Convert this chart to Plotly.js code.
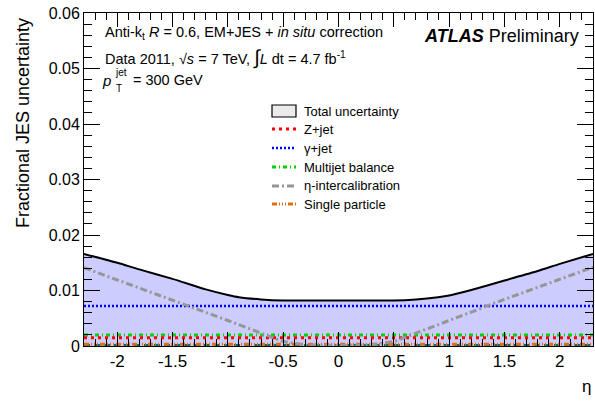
<!DOCTYPE html>
<html>
<head>
<meta charset="utf-8">
<script src="https://cdn.plot.ly/plotly-3.0.1.min.js"></script>
<style>html,body{margin:0;padding:0;background:#fff;}#chart{width:595px;height:404px;}</style>
</head>
<body>
<div id="chart"></div>
<script>
// eta points and values
const etaTotal = [-2.3, -2.0, -1.8, -1.5, -1.2, -1.0, -0.9, -0.7, -0.5, 0.0, 0.5, 0.7, 0.9, 1.0, 1.2, 1.5, 1.8, 2.0, 2.3];
const totalUnc = [0.0166, 0.0150, 0.0138, 0.0121, 0.0102, 0.0092, 0.0088, 0.0084, 0.0082, 0.0082, 0.0082, 0.0084, 0.0088, 0.0091, 0.0101, 0.0118, 0.0135, 0.0148, 0.0166];

const etaFlat = [-2.3, 2.3];
const zjet = [0.0015, 0.0015];
const gammajet = [0.0072, 0.0072];
const multijet = [0.0020, 0.0020];
const singleParticle = [0.0003, 0.0003];
const otherTerm = [0.0001, 0.0001];

const etaInter = [-2.3, -1.5, -1.0, -0.5, -0.3, 0.0, 0.3, 0.5, 1.0, 1.5, 2.3];
const etaIntercal = [0.0141, 0.0083, 0.0046, 0.0008, 0.0002, 0.0001, 0.0002, 0.0008, 0.0046, 0.0084, 0.0142];

const legendNames = ['Total uncertainty', 'Z+jet', 'γ+jet', 'Multijet balance', 'η-intercalibration', 'Single particle'];
const xTicks = [-2, -1.5, -1, -0.5, 0, 0.5, 1, 1.5, 2];
const xTickText = ['-2', '-1.5', '-1', '-0.5', '0', '0.5', '1', '1.5', '2'];
const yTicks = [0, 0.01, 0.02, 0.03, 0.04, 0.05, 0.06];
const yTickText = ['0', '0.01', '0.02', '0.03', '0.04', '0.05', '0.06'];

// styles
const styles = {
  total: {fill: 'rgb(204,204,255)', line: 'black'},
  z: {color: 'rgb(255,0,0)', width: 3, dash: '3px,4px'},
  g: {color: 'rgb(0,0,255)', width: 2.5, dash: '2px,2px'},
  m: {color: 'rgb(0,210,0)', width: 3, dash: '4px,3px,1px,3px'},
  e: {color: 'rgb(150,150,150)', width: 3, dash: '7px,3px,2px,3px'},
  s: {color: 'rgb(220,110,20)', width: 3, dash: '5px,2px,1px,2px,1px,2px,1px,2px'},
  o: {color: 'rgb(0,110,110)', width: 3, dash: '6px,4px'}
};

const traces = [
  {x: etaTotal, y: totalUnc, type: 'scatter', mode: 'lines', fill: 'tozeroy',
   fillcolor: styles.total.fill, line: {color: styles.total.line, width: 2, shape: 'spline', smoothing: 0.6}, name: legendNames[0]},
  {x: etaFlat, y: otherTerm, type: 'scatter', mode: 'lines', line: styles.o},
  {x: etaFlat, y: singleParticle, type: 'scatter', mode: 'lines', line: styles.s, name: legendNames[5]},
  {x: etaFlat, y: multijet, type: 'scatter', mode: 'lines', line: styles.m, name: legendNames[3]},
  {x: etaFlat, y: zjet, type: 'scatter', mode: 'lines', line: styles.z, name: legendNames[1]},
  {x: etaFlat, y: gammajet, type: 'scatter', mode: 'lines', line: styles.g, name: legendNames[2]},
  {x: etaInter, y: etaIntercal, type: 'scatter', mode: 'lines', line: styles.e, name: legendNames[4]}
];

// pixel helpers for the plot frame (l=84, r=593, t=13, b=346)
const L = 84, R = 593, T = 13, B = 346;
const px = x => (x - L) / (R - L);
const py = y => (B - y) / (B - T);

const fontFam = 'Liberation Sans, Arial, sans-serif';

// manual legend
const legRows = [111, 129, 148, 167, 186, 204];
const legStyles = [null, styles.z, styles.g, styles.m, styles.e, styles.s];
const shapes = [];
const annotations = [];
legRows.forEach((yy, i) => {
  if (i === 0) {
    shapes.push({type: 'rect', xref: 'paper', yref: 'paper', x0: px(272), x1: px(296), y0: py(117), y1: py(105),
                 fillcolor: 'rgb(235,235,235)', line: {color: 'black', width: 1.2}});
  } else {
    shapes.push({type: 'line', xref: 'paper', yref: 'paper', x0: px(272), x1: px(296), y0: py(yy), y1: py(yy),
                 line: legStyles[i]});
  }
  annotations.push({xref: 'paper', yref: 'paper', x: px(302), y: py(yy), xanchor: 'left', yanchor: 'middle',
                    showarrow: false, text: legendNames[i], font: {size: 13}});
});

annotations.push(
  {xref: 'paper', yref: 'paper', x: px(103), y: py(33), xanchor: 'left', yanchor: 'middle', showarrow: false,
   text: 'Anti-k<sub>t</sub> <i>R</i> = 0.6, EM+JES + <i>in situ</i> correction', font: {size: 14.5}},
  {xref: 'paper', yref: 'paper', x: px(103), y: py(57), xanchor: 'left', yanchor: 'middle', showarrow: false,
   text: 'Data 2011, √<i>s</i> = 7 TeV, <span style="font-size:20px">∫</span><i>L</i> dt = 4.7 fb<sup>-1</sup>', font: {size: 14.5}},
  {xref: 'paper', yref: 'paper', x: px(100), y: py(80), xanchor: 'left', yanchor: 'middle', showarrow: false,
   text: '<i>p</i>', font: {size: 15}},
  {xref: 'paper', yref: 'paper', x: px(113), y: py(72), xanchor: 'left', yanchor: 'middle', showarrow: false,
   text: 'jet', font: {size: 10}},
  {xref: 'paper', yref: 'paper', x: px(114), y: py(88), xanchor: 'left', yanchor: 'middle', showarrow: false,
   text: 'T', font: {size: 10}},
  {xref: 'paper', yref: 'paper', x: px(131), y: py(80), xanchor: 'left', yanchor: 'middle', showarrow: false,
   text: '= 300 GeV', font: {size: 14.5}},
  {xref: 'paper', yref: 'paper', x: px(581), y: py(36), xanchor: 'right', yanchor: 'middle', showarrow: false,
   text: '<b><i>ATLAS</i></b> Preliminary', font: {size: 18}},
  {xref: 'paper', yref: 'paper', x: px(586), y: py(386), xanchor: 'center', yanchor: 'middle', showarrow: false,
   text: 'η', font: {size: 17}},
  {xref: 'paper', yref: 'paper', x: px(23), y: py(123), xanchor: 'center', yanchor: 'middle', showarrow: false,
   textangle: -90, text: 'Fractional JES uncertainty', font: {size: 18}}
);

const layout = {
  width: 595, height: 404,
  margin: {l: L, r: 595 - R, t: T, b: 404 - B},
  paper_bgcolor: 'white', plot_bgcolor: 'white',
  font: {family: fontFam, color: 'black'},
  showlegend: false,
  xaxis: {range: [-2.3, 2.3], tickvals: xTicks, ticktext: xTickText, ticks: 'inside', ticklen: 14,
          tickcolor: 'black', mirror: 'allticks', showline: true, linecolor: 'black', linewidth: 1,
          showgrid: false, zeroline: false, tickfont: {size: 17},
          minor: {dtick: 0.1, ticks: 'inside', ticklen: 7, tickcolor: 'black', showgrid: false}},
  yaxis: {range: [0, 0.06], tickvals: yTicks, ticktext: yTickText, ticks: 'inside', ticklen: 16,
          tickcolor: 'black', mirror: 'allticks', showline: true, linecolor: 'black', linewidth: 1,
          showgrid: false, zeroline: false, tickfont: {size: 16},
          minor: {dtick: 0.002, ticks: 'inside', ticklen: 8, tickcolor: 'black', showgrid: false}},
  shapes: shapes,
  annotations: annotations
};

Plotly.newPlot('chart', traces, layout, {displayModeBar: false, staticPlot: true});
</script>
</body>
</html>
